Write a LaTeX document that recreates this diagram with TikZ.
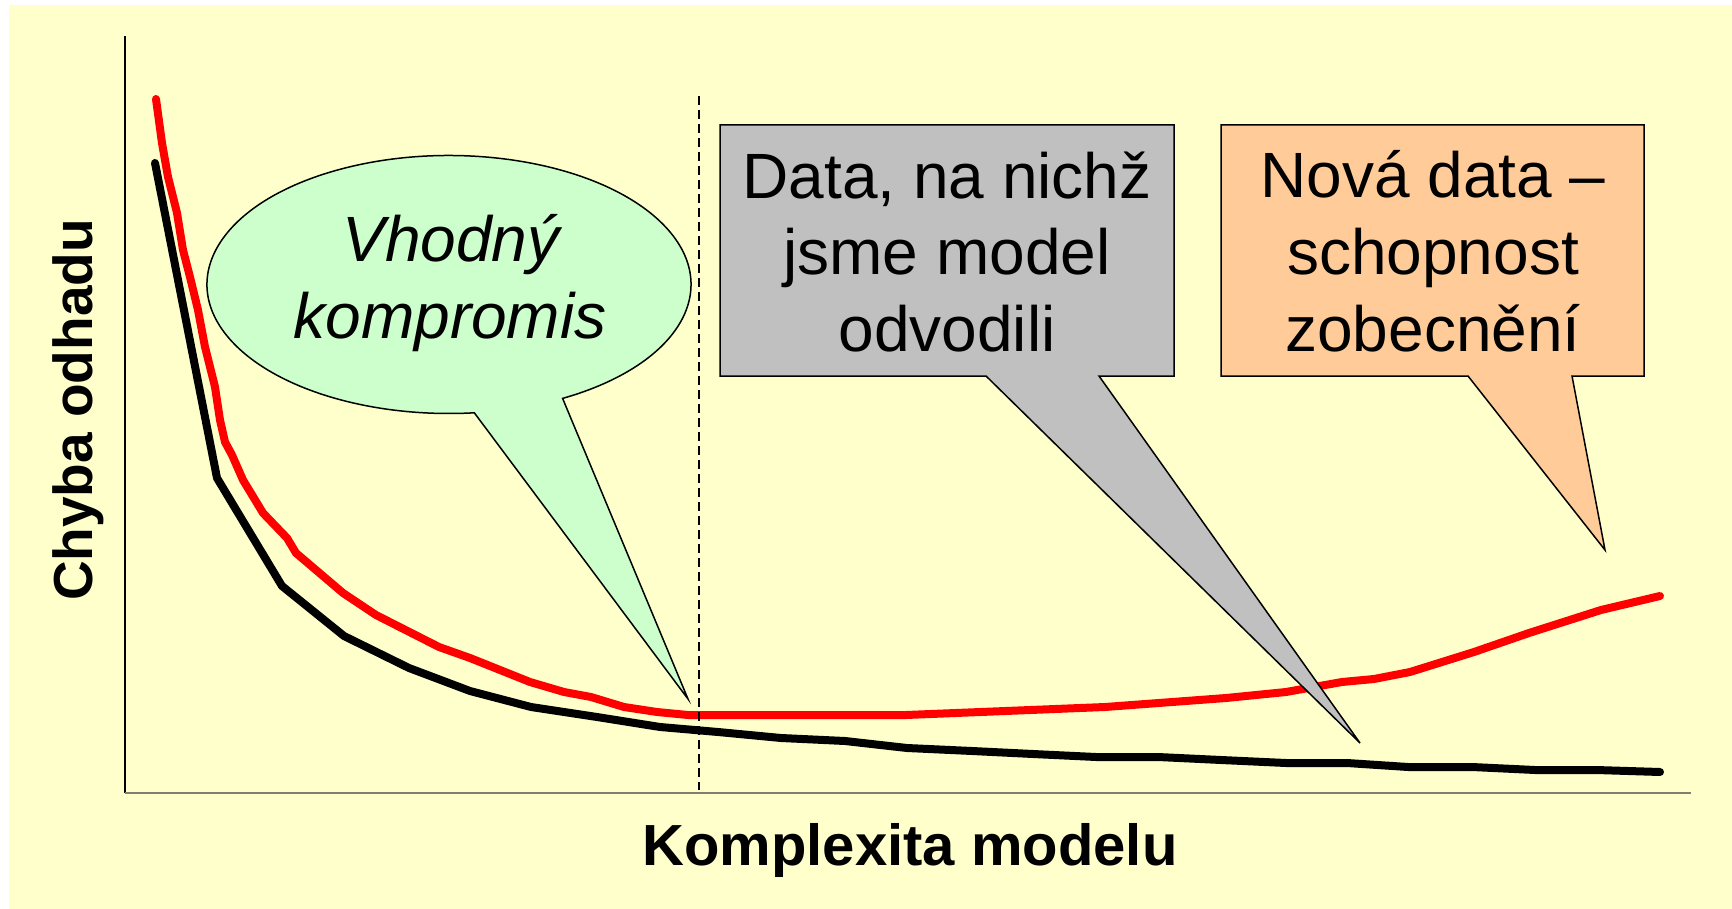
\documentclass[tikz,border=0pt]{standalone}
\usepackage{fontspec}
\setmainfont{Liberation Sans}
\definecolor{paper}{HTML}{FFFFCC}
\definecolor{mint}{HTML}{CCFFCC}
\definecolor{silver}{HTML}{C0C0C0}
\definecolor{peach}{HTML}{FFCC99}
\definecolor{axisgray}{RGB}{128,128,112}
\begin{document}
\begin{tikzpicture}[x=1pt,y=-1pt,
  curve/.style={line width=8pt, line cap=round, line join=round},
  callout/.style={draw=black, line width=1.5pt, line join=miter},
  calltext/.style={anchor=base, inner sep=0pt, font=\fontsize{64}{77}\selectfont},
  xlab/.style={anchor=base, inner sep=0pt, font=\bfseries\fontsize{58}{70}\selectfont},
  ylab/.style={anchor=base, inner sep=0pt, rotate=90, font=\bfseries\fontsize{55}{66}\selectfont}]

% page and slide background
\useasboundingbox (0,0) rectangle (1732,909);
\fill[white] (0,0) rectangle (1732,909);
\fill[paper] (9,5) rectangle (1732,909);

% axes
\draw[line width=1.2pt, black] (125,36) -- (125,793);
\draw[line width=2pt, axisgray] (125,793) -- (1691,793);

% error on new data
\draw[curve, red] plot coordinates {
  (156,99) (162,143) (168,177) (177,213) (183,250) (190,277) (198,310)
  (205,347) (215,387) (220,420) (225,442) (232,455) (243,480) (263,513)
  (287,538) (296,553) (343,593) (376,615) (439,647) (470,658) (530,682)
  (564,692) (591,697) (624,707) (657,712) (688,715) (906,715) (1105,707)
  (1226,698) (1286,692) (1342,682) (1374,679) (1410,672) (1474,652)
  (1529,633) (1601,610) (1660,596)};

% error on training data
\draw[curve, black] plot coordinates {
  (155,163) (217,478) (282,586) (344,636) (409,668) (470,691) (531,707)
  (597,717) (660,727) (718,732) (781,738) (845,741) (907,748) (972,751)
  (1033,754) (1096,757) (1158,757) (1221,760) (1286,763) (1347,763)
  (1408,767) (1472,767) (1535,770) (1596,770) (1660,772)};

% optimum complexity marker
\draw[line width=1.5pt, dash pattern=on 9pt off 5pt] (699,96) -- (699,790);

% callout tips
\coordinate (tipGreen) at (688,699);
\coordinate (tipGray) at (1360,743);
\coordinate (tipPeach) at (1605,550);

% elliptical callout
\filldraw[callout, fill=mint]
  (474.3,412.8) -- (tipGreen) -- (562.6,398.4)
  arc[start angle=62, end angle=-276, x radius=242, y radius=129] -- cycle;

% rectangular callouts
\filldraw[callout, fill=silver]
  (720,125) -- (1174,125) -- (1174,376) -- (1099,376) -- (tipGray)
  -- (986,376) -- (720,376) -- cycle;
\filldraw[callout, fill=peach]
  (1221,125) -- (1644,125) -- (1644,376) -- (1572,376) -- (tipPeach)
  -- (1468,376) -- (1221,376) -- cycle;

% callout texts
\node[calltext] (greenA) at (451,262) {\itshape Vhodný};
\node[calltext] (greenB) at (450,338) {\itshape kompromis};

\node[calltext] (grayA) at (947,199) {Data, na nichž};
\node[calltext] (grayB) at (947,275) {jsme model};
\node[calltext] (grayC) at (947,352) {odvodili};

\node[calltext] (peachA) at (1433,198) {Nová data –};
\node[calltext] (peachB) at (1433,275) {schopnost};
\node[calltext] (peachC) at (1433,352) {zobecnění};

% axis titles
\node[xlab] (xtitle) at (910,865) {Komplexita modelu};
\node[ylab] (ytitle) at (92,410) {Chyba odhadu};
\end{tikzpicture}
\end{document}
